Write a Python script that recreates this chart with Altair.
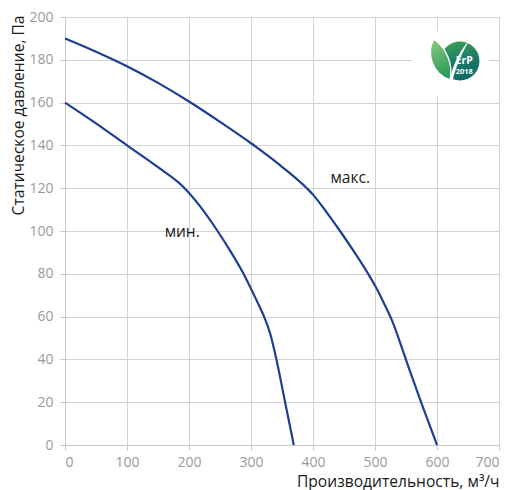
import altair as alt
import pandas as pd

# --- data ---
max_q = [0, 50, 100, 150, 200, 250, 300, 350, 390, 400, 420, 443.5, 467, 489, 500, 514, 527, 551, 575, 600]
max_p = [190, 183.8, 177, 169.2, 160.5, 151, 141, 130, 120, 117, 109.5, 100, 90, 80, 74.5, 66.5, 58.5, 39, 19.5, 0]
min_q = [0, 50, 100, 150, 193, 218, 246, 268, 288, 300, 310, 321, 331, 341, 355, 369]
min_p = [160, 150.3, 140, 129.8, 120, 111.5, 100, 90, 80, 73, 67, 60, 52, 40, 20, 0]

label_text = ["макс.", "мин."]
label_q = [460, 189]
label_p = [125, 99.5]

x_ticks = [0, 100, 200, 300, 400, 500, 600, 700]
y_ticks = [0, 20, 40, 60, 80, 100, 120, 140, 160, 180, 200]

# ErP badge (annotation placed in data space)
badge_box_q = [561, 684]
badge_box_p = [163, 193.5]
badge_q = [637]
badge_p = [179.4]
badge_texts = ["ErP", "2018"]
badge_text_q = [644, 644]
badge_text_p = [179.4, 174.4]

LINE = "#1c3f94"
FONT = "Open Sans"

curves = pd.DataFrame(
    {"q": max_q + min_q, "p": max_p + min_p,
     "s": ["max"] * len(max_q) + ["min"] * len(min_q),
     "o": list(range(len(max_q))) + list(range(len(min_q)))}
)
labels = pd.DataFrame({"t": label_text, "q": label_q, "p": label_p})

xs = alt.Scale(domain=[0, 700], nice=False)
ys = alt.Scale(domain=[0, 200], nice=False)

xaxis = alt.Axis(values=x_ticks, title="Производительность, м³/ч",
                 titleAnchor="end", titleAlign="right", titleX=434, titleY=41,
                 titleBaseline="alphabetic", labelPadding=5)
yaxis = alt.Axis(values=y_ticks, title="Статическое давление, Па",
                 titleAlign="right", titleAngle=-90, titleX=-47, titleY=-2,
                 titleBaseline="middle", labelPadding=7)

lines = alt.Chart(curves).mark_line(color=LINE, strokeWidth=2.2, interpolate="monotone").encode(
    x=alt.X("q:Q", scale=xs, axis=xaxis),
    y=alt.Y("p:Q", scale=ys, axis=yaxis),
    detail="s:N",
    order="o:Q",
)

text = alt.Chart(labels).mark_text(fontSize=15.5, font=FONT, color="#1a1a1a").encode(
    x=alt.X("q:Q", scale=xs), y=alt.Y("p:Q", scale=ys), text="t:N"
)

box = alt.Chart(pd.DataFrame({"q": [badge_box_q[0]], "q2": [badge_box_q[1]],
                              "p": [badge_box_p[0]], "p2": [badge_box_p[1]]})).mark_rect(
    color="white").encode(
    x=alt.X("q:Q", scale=xs), x2="q2:Q", y=alt.Y("p:Q", scale=ys), y2="p2:Q")

badge_df = pd.DataFrame({"q": badge_q, "p": badge_p})
circle = alt.Chart(badge_df).mark_point(
    shape="circle", filled=True, size=1520, opacity=1,
    fill={"gradient": "linear", "x1": 0.2, "y1": 0, "x2": 0.5, "y2": 1,
          "stops": [{"offset": 0, "color": "#3f9f55"}, {"offset": 0.6, "color": "#16786a"},
                    {"offset": 1, "color": "#0d6b66"}]},
    strokeWidth=0).encode(x=alt.X("q:Q", scale=xs), y=alt.Y("p:Q", scale=ys))

leaf_path = "M 0.29 1 C -0.6 0.7 -0.85 -0.3 -0.48 -0.95 C 0.1 -0.5 0.45 0.2 0.29 1 Z"
leaf = alt.Chart(pd.DataFrame({"q": [611.3], "p": [180.4]})).mark_point(
    shape=leaf_path, filled=True, size=1764, opacity=1,
    fill={"gradient": "linear", "x1": 0, "y1": 0, "x2": 0.3, "y2": 1,
          "stops": [{"offset": 0, "color": "#8ccc7a"}, {"offset": 1, "color": "#2f9a5c"}]},
    stroke="white", strokeWidth=1.4).encode(x=alt.X("q:Q", scale=xs), y=alt.Y("p:Q", scale=ys))

stem_path = "M -0.43 0.95 C -0.3 0.2 0.1 -0.5 0.48 -0.95 C 0.2 -0.4 -0.12 0.2 -0.3 0.95 Z"
stem = alt.Chart(pd.DataFrame({"q": [635.5], "p": [179.9]})).mark_point(
    shape=stem_path, filled=True, size=1764, opacity=1, fill="#ffffff", strokeWidth=0).encode(
    x=alt.X("q:Q", scale=xs), y=alt.Y("p:Q", scale=ys))

btxt = alt.Chart(pd.DataFrame({"t": badge_texts, "q": badge_text_q, "p": badge_text_p,
                               "s": [10.5, 7.5]})).mark_text(
    color="white", font=FONT, fontWeight="bold").encode(
    x=alt.X("q:Q", scale=xs), y=alt.Y("p:Q", scale=ys), text="t:N",
    size=alt.Size("s:Q", scale=None, legend=None))

chart = alt.layer(lines, text, box, circle, leaf, stem, btxt).properties(
    width=434, height=428,
    autosize=alt.AutoSizeParams(type="none"),
    padding={"left": 57, "top": 9, "right": 8, "bottom": 45},
).configure_view(stroke=None).configure_axis(
    grid=True, gridColor="#d3d3d3", gridWidth=1,
    domainColor="#c8c8c8", tickColor="#c8c8c8", tickSize=5,
    labelColor="#9a9a9a", labelFontSize=14, labelFont=FONT,
    titleFontSize=15.6, titleFont=FONT, titleColor="#1a1a1a", titleFontWeight="normal",
)

chart.save("out.html", embed_options={"renderer": "svg", "actions": False})
